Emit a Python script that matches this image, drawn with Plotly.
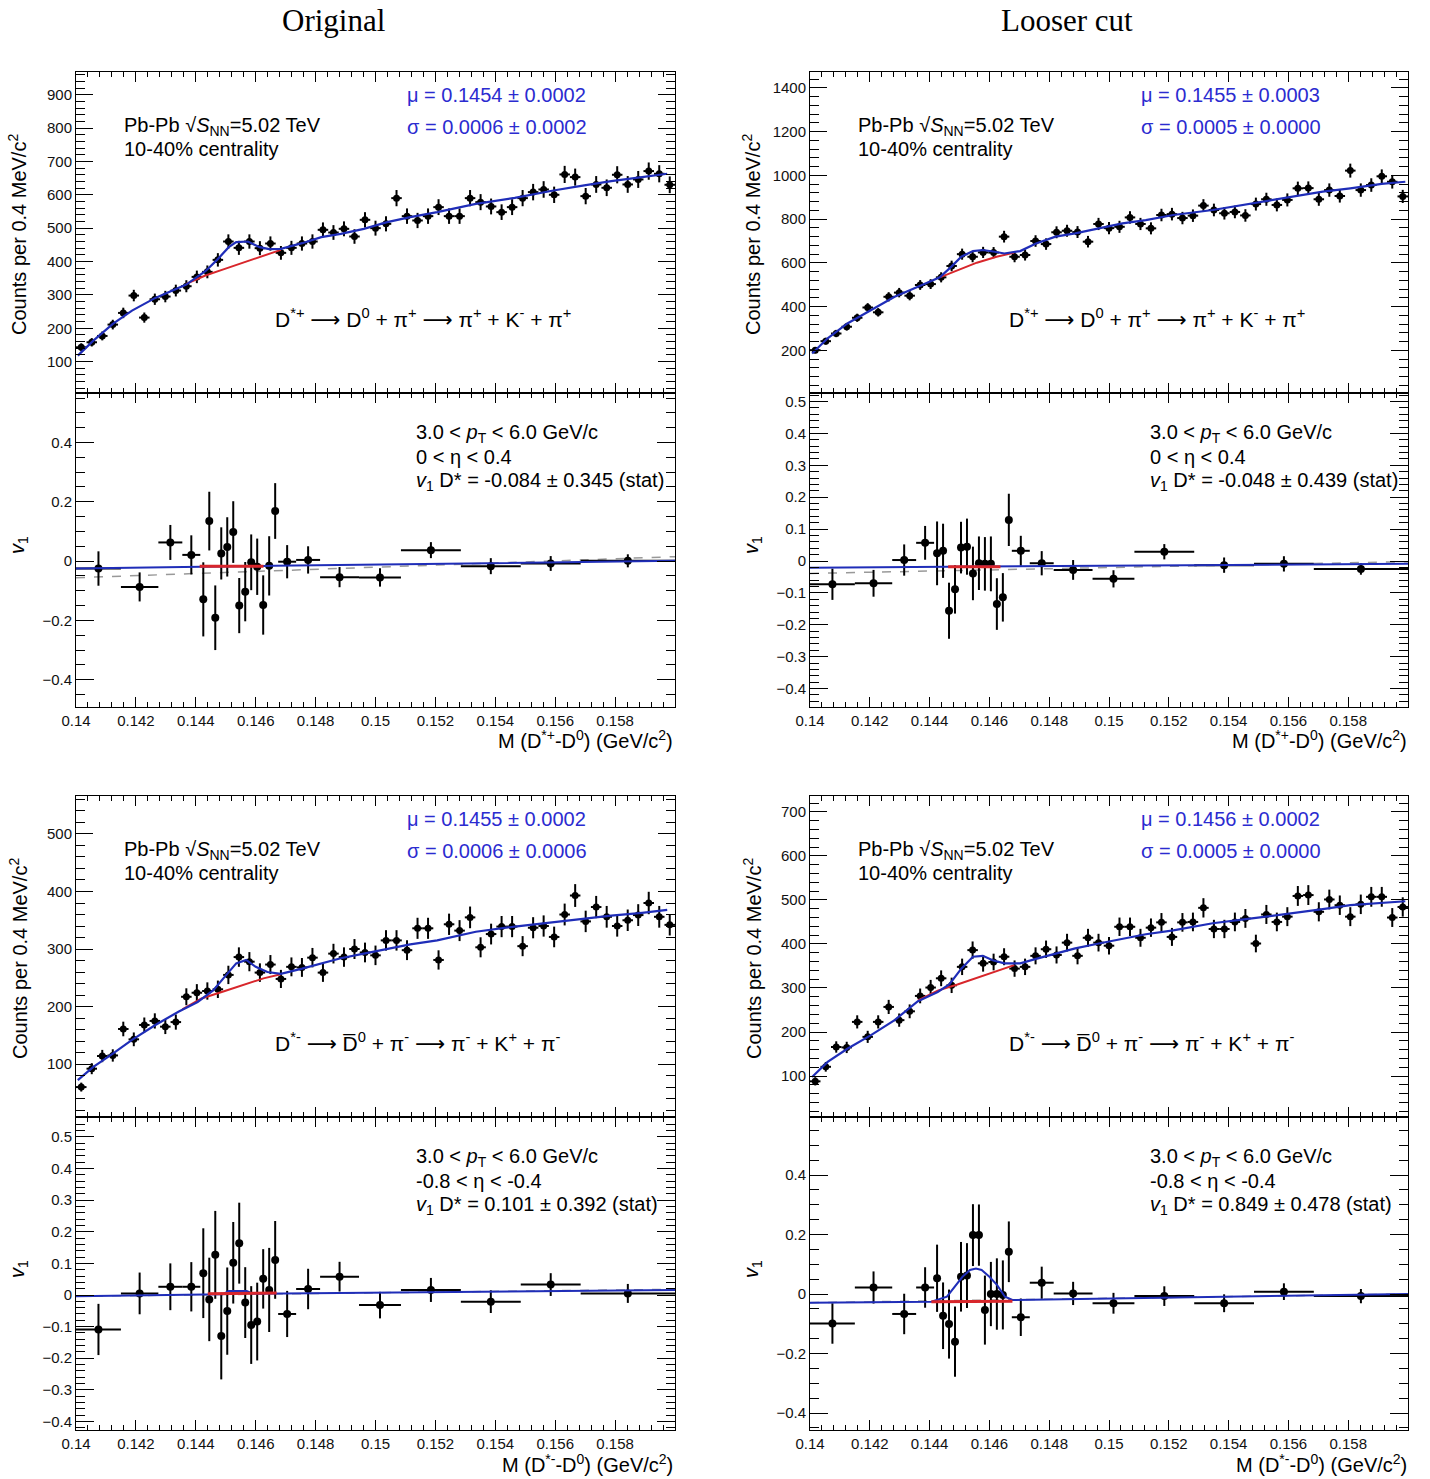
import plotly.graph_objects as go
import numpy as np

# ---------------- data ----------------
M_LO, M_HI = 0.14, 0.16
N_MASS_BINS = 57

counts_TL = [143,158,177,211,246,298,232,287,295,313,326,354,369,405,460,441,460,440,454,426,
             441,454,460,495,487,498,475,525,500,513,590,536,523,536,563,536,536,590,578,565,
             548,563,590,608,616,600,661,653,596,631,621,660,631,646,671,663,630]
counts_TR = [201,242,277,308,349,396,374,445,464,450,499,503,534,586,640,628,648,647,720,628,
             636,700,686,740,747,741,697,778,759,765,808,778,758,819,823,805,816,862,842,827,
             833,817,869,891,865,888,941,942,891,933,906,1022,933,956,996,971,904]
counts_BL = [60,92,114,115,161,143,168,175,165,173,217,224,227,230,255,286,278,259,273,248,
             269,268,285,259,292,286,300,294,289,315,315,298,336,336,281,343,332,355,303,326,
             339,339,305,337,340,321,360,393,348,373,356,340,350,359,380,356,342]
counts_BR = [88,121,166,165,223,189,223,257,227,247,282,301,322,306,348,386,356,359,371,344,
             348,373,388,375,403,373,414,403,396,439,439,414,437,449,416,449,450,482,434,434,
             450,458,401,467,450,462,509,511,473,501,488,462,490,507,507,460,484]

# fit curves (total = blue, background = red)
fit_TL_x = [0.14006,0.14058,0.14123,0.14187,0.14265,0.14368,0.14432,0.14471,0.14510,0.14535,0.14574,0.14613,0.14645,0.14684,0.14755,0.14819,0.14884,0.14961,0.15039,0.15116,0.15206,0.15335,0.15465,0.15594,0.15697,0.15787,0.15890,0.15974]
fit_TL_y = [118,163,213,253,291,331,371,405,443,458,460,443,437,438,455,473,483,498,518,533,548,573,591,613,628,641,653,663]
bkg_TL_x = [0.14368,0.14432,0.14497,0.14561,0.14626,0.14684]
bkg_TL_y = [333,358,378,398,418,435]

fit_TR_x = [0.14007,0.14059,0.14125,0.14204,0.14283,0.14361,0.14434,0.14473,0.14506,0.14545,0.14578,0.14618,0.14650,0.14703,0.14756,0.14821,0.14887,0.14966,0.15045,0.15123,0.15215,0.15347,0.15478,0.15610,0.15715,0.15807,0.15912,0.15991]
fit_TR_y = [186,255,323,384,445,491,534,583,628,654,659,651,643,654,689,720,735,758,781,796,819,842,872,903,926,941,961,971]
bkg_TR_x = [0.14434,0.14493,0.14558,0.14624,0.14683]
bkg_TR_y = [534,567,601,628,647]

fit_BL_x = [0.14006,0.14058,0.14123,0.14187,0.14265,0.14342,0.14406,0.14458,0.14497,0.14535,0.14568,0.14600,0.14639,0.14684,0.14755,0.14819,0.14884,0.14961,0.15039,0.15116,0.15206,0.15335,0.15465,0.15594,0.15697,0.15787,0.15890,0.15974]
fit_BL_y = [72,95,118,142,168,191,208,228,252,275,281,269,260,257,266,275,284,292,300,308,315,330,339,347,353,358,363,368]
bkg_BL_x = [0.14355,0.14419,0.14497,0.14561,0.14626,0.14684]
bkg_BL_y = [195,214,227,238,249,256]

fit_BR_x = [0.14007,0.14059,0.14125,0.14204,0.14283,0.14361,0.14427,0.14466,0.14506,0.14545,0.14578,0.14611,0.14650,0.14703,0.14756,0.14821,0.14887,0.14966,0.15045,0.15123,0.15215,0.15347,0.15478,0.15610,0.15715,0.15807,0.15912,0.15991]
fit_BR_y = [98,132,162,193,227,270,291,308,344,371,373,363,356,356,366,378,390,401,411,422,431,447,458,469,479,488,494,497]
bkg_BR_x = [0.14361,0.14427,0.14493,0.14558,0.14624,0.14683]
bkg_BR_y = [272,294,308,323,339,352]

# v1 bins (edges) and values
v1_edges = [0.14,0.1415,0.14275,0.14355,0.14415,0.14435,0.14455,0.14475,0.14495,0.14515,0.14535,
            0.14555,0.14575,0.14595,0.14615,0.14635,0.14655,0.14675,0.14735,0.14815,0.14945,
            0.15085,0.15285,0.15485,0.15685,0.16]

v1_TL = [-0.025,-0.087,0.063,0.021,-0.129,0.135,-0.191,0.026,0.048,0.098,-0.150,-0.103,-0.004,
         -0.019,-0.148,-0.016,0.169,-0.002,0.004,-0.054,-0.055,0.037,-0.017,-0.008,0.001]
err_TL = [0.058,0.049,0.059,0.066,0.125,0.099,0.109,0.088,0.100,0.104,0.093,0.100,0.094,0.095,
          0.100,0.100,0.094,0.056,0.046,0.034,0.031,0.027,0.027,0.025,0.022]
v1_TR = [-0.073,-0.070,0.003,0.057,0.024,0.032,-0.156,-0.089,0.042,0.045,-0.039,-0.007,-0.009,
         -0.009,-0.135,-0.114,0.129,0.032,-0.007,-0.028,-0.056,0.029,-0.013,-0.009,-0.025]
err_TR = [0.049,0.042,0.049,0.053,0.100,0.085,0.088,0.076,0.081,0.088,0.084,0.084,0.084,0.086,
          0.081,0.076,0.082,0.047,0.038,0.031,0.027,0.024,0.024,0.024,0.018]
v1_BL = [-0.109,0.005,0.026,0.026,0.069,-0.014,0.127,-0.130,-0.051,0.102,0.164,-0.024,-0.095,
         -0.084,0.051,0.016,0.111,-0.060,0.019,0.058,-0.032,0.016,-0.021,0.033,0.005]
err_BL = [0.081,0.066,0.074,0.078,0.142,0.132,0.139,0.137,0.138,0.129,0.128,0.112,0.123,0.123,
          0.094,0.133,0.123,0.073,0.064,0.047,0.042,0.038,0.036,0.036,0.030]
v1_BR = [-0.099,0.022,-0.067,0.022,0.053,-0.073,-0.101,-0.160,0.058,0.062,0.198,0.198,-0.054,
         0.000,0.000,-0.003,0.142,-0.078,0.038,0.002,-0.031,-0.007,-0.031,0.008,-0.007]
err_BR = [0.068,0.054,0.068,0.068,0.113,0.112,0.116,0.118,0.117,0.109,0.104,0.103,0.116,0.108,
          0.120,0.116,0.102,0.063,0.054,0.039,0.035,0.033,0.030,0.028,0.024]

# v1 fit lines
v1fit_TL_x = [0.14, 0.1441, 0.1466, 0.16]
v1fit_TL_y = [-0.025, -0.019, -0.016, 0.001]
v1bkg_TL_x = [0.14413, 0.14626]
v1bkg_TL_y = [-0.017, -0.017]
v1dash_TL_x = [0.14, 0.16]
v1dash_TL_y = [-0.056, 0.015]

v1fit_TR_x = [0.14, 0.16]
v1fit_TR_y = [-0.021, -0.009]
v1bkg_TR_x = [0.14462, 0.14637]
v1bkg_TR_y = [-0.018, -0.018]
v1dash_TR_x = [0.14, 0.16]
v1dash_TR_y = [-0.039, -0.002]

v1fit_BL_x = [0.14, 0.1449, 0.1451, 0.1457, 0.1459, 0.16]
v1fit_BL_y = [-0.004, 0.002, 0.013, 0.013, 0.004, 0.016]
v1bkg_BL_x = [0.1444, 0.1467]
v1bkg_BL_y = [0.004, 0.006]
v1dash_BL_x = [0.14, 0.16]
v1dash_BL_y = [-0.004, 0.018]

v1fit_BR_x = [0.14, 0.14406, 0.14458, 0.14484, 0.1451, 0.14535, 0.14555, 0.14574, 0.146, 0.14626, 0.14652, 0.14677, 0.16]
v1fit_BR_y = [-0.029, -0.026, -0.009, 0.025, 0.058, 0.081, 0.086, 0.081, 0.058, 0.030, -0.009, -0.020, 0.0]
v1bkg_BR_x = [0.14406, 0.14677]
v1bkg_BR_y = [-0.026, -0.024]
v1dash_BR_x = [0.14, 0.16]
v1dash_BR_y = [-0.029, 0.0]

panel_texts = {
    "TL": dict(mu="μ = 0.1454 ± 0.0002", sigma="σ = 0.0006 ± 0.0002",
               eta="0 &lt; η &lt; 0.4", v1="<i>v</i><sub>1</sub> D* = -0.084 ± 0.345 (stat)"),
    "TR": dict(mu="μ = 0.1455 ± 0.0003", sigma="σ = 0.0005 ± 0.0000",
               eta="0 &lt; η &lt; 0.4", v1="<i>v</i><sub>1</sub> D* = -0.048 ± 0.439 (stat)"),
    "BL": dict(mu="μ = 0.1455 ± 0.0002", sigma="σ = 0.0006 ± 0.0006",
               eta="-0.8 &lt; η &lt; -0.4", v1="<i>v</i><sub>1</sub> D* = 0.101 ± 0.392 (stat)"),
    "BR": dict(mu="μ = 0.1456 ± 0.0002", sigma="σ = 0.0005 ± 0.0000",
               eta="-0.8 &lt; η &lt; -0.4", v1="<i>v</i><sub>1</sub> D* = 0.849 ± 0.478 (stat)"),
}
ARROW = "<span style='font-family:DejaVu Sans'>⟶</span>"
decay_plus = ("D<sup>*+</sup> " + ARROW + " D<sup>0</sup> + π<sup>+</sup> " + ARROW +
              " π<sup>+</sup> + K<sup>-</sup> + π<sup>+</sup>")
decay_minus = ("D<sup>*-</sup> " + ARROW + " D\u0305<sup>0</sup> + π<sup>-</sup> " + ARROW +
               " π<sup>-</sup> + K<sup>+</sup> + π<sup>-</sup>")
xtitle_plus = "M (D<sup>*+</sup>-D<sup>0</sup>) (GeV/c<sup>2</sup>)"
xtitle_minus = "M (D<sup>*-</sup>-D<sup>0</sup>) (GeV/c<sup>2</sup>)"
col_titles = ["Original", "Looser cut"]

# ---------------- figure ----------------
W, H = 1430, 1479
FONT = "Liberation Sans, Arial, sans-serif"
BLUE = "#1f2db8"
RED = "#d8262b"
TXTBLUE = "#2b2bd0"

bin_w = (M_HI - M_LO) / N_MASS_BINS
mass_x = [M_LO + (i + 0.5) * bin_w for i in range(N_MASS_BINS)]
v1_x = [(a + b) / 2 for a, b in zip(v1_edges[:-1], v1_edges[1:])]
v1_xerr = [(b - a) / 2 for a, b in zip(v1_edges[:-1], v1_edges[1:])]

def fx(px):
    return px / W

def fy(py):
    return 1 - py / H

# panel geometry in pixels
cols = {"L": (76, 675), "R": (810, 1408)}
rows = {"T": ((72, 393), (393, 707)), "B": ((796, 1117), (1117, 1430))}

panels = [
    dict(key="TL", col="L", row="T", counts=counts_TL, fx_=fit_TL_x, fy_=fit_TL_y, bx=bkg_TL_x, by=bkg_TL_y,
         v1=v1_TL, err=err_TL, lfx=v1fit_TL_x, lfy=v1fit_TL_y, lbx=v1bkg_TL_x, lby=v1bkg_TL_y,
         ldx=v1dash_TL_x, ldy=v1dash_TL_y,
         mrange=[6, 968], mdtick=100, mminor=20, vrange=[-0.492, 0.567], vdtick=0.2, vminor=0.05,
         decay=decay_plus, xt=xtitle_plus),
    dict(key="TR", col="R", row="T", counts=counts_TR, fx_=fit_TR_x, fy_=fit_TR_y, bx=bkg_TR_x, by=bkg_TR_y,
         v1=v1_TR, err=err_TR, lfx=v1fit_TR_x, lfy=v1fit_TR_y, lbx=v1bkg_TR_x, lby=v1bkg_TR_y,
         ldx=v1dash_TR_x, ldy=v1dash_TR_y,
         mrange=[5, 1473], mdtick=200, mminor=40, vrange=[-0.458, 0.527], vdtick=0.1, vminor=0.02,
         decay=decay_plus, xt=xtitle_plus),
    dict(key="BL", col="L", row="B", counts=counts_BL, fx_=fit_BL_x, fy_=fit_BL_y, bx=bkg_BL_x, by=bkg_BL_y,
         v1=v1_BL, err=err_BL, lfx=v1fit_BL_x, lfy=v1fit_BL_y, lbx=v1bkg_BL_x, lby=v1bkg_BL_y,
         ldx=v1dash_BL_x, ldy=v1dash_BL_y,
         mrange=[8, 566], mdtick=100, mminor=20, vrange=[-0.427, 0.563], vdtick=0.1, vminor=0.02,
         decay=decay_minus, xt=xtitle_minus),
    dict(key="BR", col="R", row="B", counts=counts_BR, fx_=fit_BR_x, fy_=fit_BR_y, bx=bkg_BR_x, by=bkg_BR_y,
         v1=v1_BR, err=err_BR, lfx=v1fit_BR_x, lfy=v1fit_BR_y, lbx=v1bkg_BR_x, lby=v1bkg_BR_y,
         ldx=v1dash_BR_x, ldy=v1dash_BR_y,
         mrange=[7, 736], mdtick=100, mminor=20, vrange=[-0.457, 0.595], vdtick=0.2, vminor=0.05,
         decay=decay_minus, xt=xtitle_minus),
]

fig = go.Figure()
layout = {}
annotations = []
x_tickvals = [0.14, 0.142, 0.144, 0.146, 0.148, 0.15, 0.152, 0.154, 0.156, 0.158]

def axis_common():
    return dict(showline=True, linecolor="black", linewidth=1, mirror="allticks",
                ticks="inside", tickcolor="black", tickwidth=1, showgrid=False, zeroline=False,
                automargin=False,
                tickfont=dict(family=FONT, size=15, color="#111"))

err_style = dict(color="black", thickness=2, width=0)

for i, p in enumerate(panels):
    n_m = 2 * i + 1
    n_v = 2 * i + 2
    x0, x1 = cols[p["col"]]
    (mt, mb), (vt, vb) = rows[p["row"]]
    xd = [fx(x0), fx(x1)]
    xm, ym = ("x%d" % n_m, "y%d" % n_m)
    xv, yv = ("x%d" % n_v, "y%d" % n_v)

    # mass axes
    ax = axis_common()
    ax.update(domain=xd, anchor=ym, range=[M_LO, M_HI], tickvals=x_tickvals, showticklabels=False,
              ticklen=10, minor=dict(ticks="inside", ticklen=5, dtick=0.0004, tick0=0.14, tickcolor="black"))
    layout["xaxis%d" % n_m] = ax
    ay = axis_common()
    ay.update(domain=[fy(mb), fy(mt)], anchor=xm, range=p["mrange"], dtick=p["mdtick"], tick0=0,
              ticklen=17, minor=dict(ticks="inside", ticklen=9, dtick=p["mminor"], tick0=0, tickcolor="black"))
    layout["yaxis%d" % n_m] = ay

    # v1 axes
    ax = axis_common()
    ax.update(domain=xd, anchor=yv, range=[M_LO, M_HI], tickvals=x_tickvals, showticklabels=True,
              ticklen=10, minor=dict(ticks="inside", ticklen=5, dtick=0.0004, tick0=0.14, tickcolor="black"))
    layout["xaxis%d" % n_v] = ax
    ay = axis_common()
    ay.update(domain=[fy(vb), fy(vt)], anchor=xv, range=p["vrange"], dtick=p["vdtick"], tick0=0,
              ticklen=18, minor=dict(ticks="inside", ticklen=9, dtick=p["vminor"], tick0=0, tickcolor="black"))
    layout["yaxis%d" % n_v] = ay

    # mass histogram points
    fig.add_trace(go.Scatter(
        x=mass_x, y=p["counts"], mode="markers", xaxis=xm, yaxis=ym,
        marker=dict(color="black", size=7),
        error_y=dict(type="data", array=list(np.sqrt(p["counts"])), **err_style),
        error_x=dict(type="constant", value=bin_w / 2, **err_style),
        showlegend=False))
    fig.add_trace(go.Scatter(x=p["bx"], y=p["by"], mode="lines", xaxis=xm, yaxis=ym,
                             line=dict(color=RED, width=2), showlegend=False))
    fig.add_trace(go.Scatter(x=p["fx_"], y=p["fy_"], mode="lines", xaxis=xm, yaxis=ym,
                             line=dict(color=BLUE, width=2.2), showlegend=False))

    # v1 points
    fig.add_trace(go.Scatter(x=p["ldx"], y=p["ldy"], mode="lines", xaxis=xv, yaxis=yv,
                             line=dict(color="#999999", width=1.5, dash="dash"), showlegend=False))
    fig.add_trace(go.Scatter(
        x=v1_x, y=p["v1"], mode="markers", xaxis=xv, yaxis=yv,
        marker=dict(color="black", size=8),
        error_y=dict(type="data", array=p["err"], **err_style),
        error_x=dict(type="data", array=v1_xerr, **err_style),
        showlegend=False))
    fig.add_trace(go.Scatter(x=p["lfx"], y=p["lfy"], mode="lines", xaxis=xv, yaxis=yv,
                             line=dict(color=BLUE, width=2), showlegend=False))
    fig.add_trace(go.Scatter(x=p["lbx"], y=p["lby"], mode="lines", xaxis=xv, yaxis=yv,
                             line=dict(color=RED, width=3), showlegend=False))

    # text annotations
    dx = 0 if p["col"] == "L" else 734
    dy = 0 if p["row"] == "T" else 724
    t = panel_texts[p["key"]]

    def ann(text, px, py, size=18, color="black", xanchor="left", angle=0, family=FONT):
        annotations.append(dict(text=text, x=fx(px), y=fy(py), xref="paper", yref="paper",
                                xanchor=xanchor, yanchor="middle", showarrow=False, textangle=angle,
                                font=dict(family=family, size=size, color=color)))

    ann("Pb-Pb √<i>S</i><sub>NN</sub>=5.02 TeV", 122 + dx, 126 + dy, size=20)
    ann("10-40% centrality", 122 + dx, 149 + dy, size=20)
    ann(t["mu"], 405 + dx, 95 + dy, size=20, color=TXTBLUE)
    ann(t["sigma"], 405 + dx, 127 + dy, size=20, color=TXTBLUE)
    ann(p["decay"], 273 + dx, 318 + dy, size=21)
    ann("3.0 &lt; <i>p</i><sub>T</sub> &lt; 6.0 GeV/c", 414 + dx, 433 + dy, size=20)
    ann(t["eta"], 414 + dx, 457 + dy, size=20)
    ann(t["v1"], 414 + dx, 481 + dy, size=20)
    ann("Counts per 0.4 MeV/c<sup>2</sup>", 18 + dx, 235 + dy, size=20, xanchor="center", angle=-90)
    ann("<i>v</i><sub>1</sub>", 18 + dx, 545 + dy, size=20, xanchor="center", angle=-90)
    ann(p["xt"], 675 + dx, 739 + dy, size=20, xanchor="right")

for j, title in enumerate(col_titles):
    annotations.append(dict(text=title, x=fx(333 + 734 * j), y=fy(1), xref="paper", yref="paper",
                            xanchor="center", yanchor="top", showarrow=False,
                            font=dict(family="Liberation Serif, DejaVu Serif, serif", size=31, color="black")))

fig.update_layout(width=W, height=H, margin=dict(l=0, r=0, t=0, b=0, pad=0, autoexpand=False),
                  paper_bgcolor="white", plot_bgcolor="white",
                  annotations=annotations, showlegend=False, **layout)

fig.write_html("out.html")
